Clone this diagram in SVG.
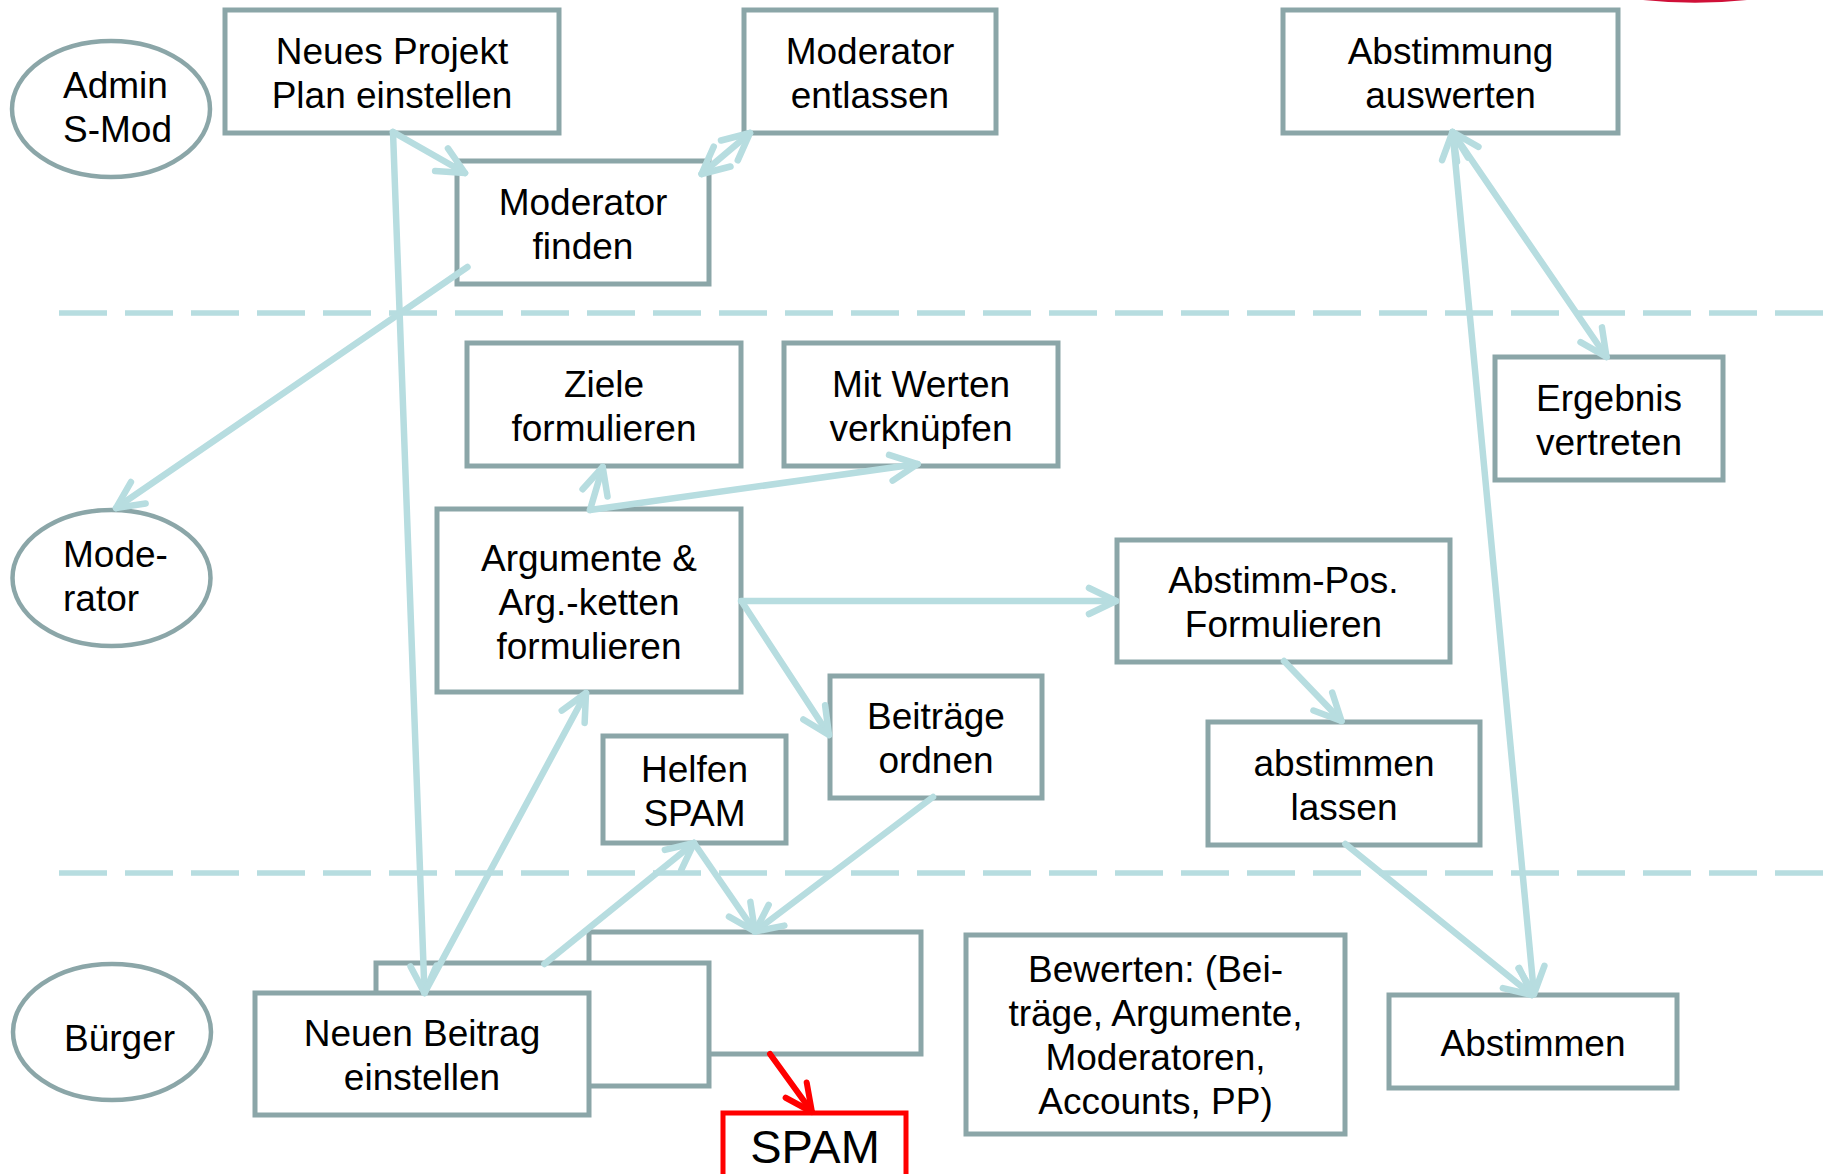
<svg xmlns="http://www.w3.org/2000/svg" width="1827" height="1174" viewBox="0 0 1827 1174">
<defs>
<style>
.box{fill:#fff;stroke:#8ba6a8;stroke-width:5}
.ell{fill:#fff;stroke:#8ba6a8;stroke-width:4.5}
.t{font-family:"Liberation Sans",Arial,sans-serif;font-size:37px;fill:#000;text-anchor:middle}
.ts{font-family:"Liberation Sans",Arial,sans-serif;font-size:37px;fill:#000;text-anchor:start}
.c{fill:none;stroke:#b7dde0;stroke-width:6.5;stroke-linecap:round;marker-end:url(#ah)}
.cb{marker-start:url(#ah)}
.dash{fill:none;stroke:#b7dde0;stroke-width:5.5;stroke-dasharray:48 18}
</style>
<marker id="ah" markerUnits="userSpaceOnUse" orient="auto-start-reverse" viewBox="-40 -25 50 50" refX="0" refY="0" markerWidth="50" markerHeight="50">
<path d="M-27,-13 L0,0 L-27,13" fill="none" stroke="#b7dde0" stroke-width="6.5" stroke-linecap="round" stroke-linejoin="round"/>
</marker>
<marker id="ahr" markerUnits="userSpaceOnUse" orient="auto" viewBox="-40 -25 50 50" refX="0" refY="0" markerWidth="50" markerHeight="50">
<path d="M-27,-13 L0,0 L-27,13" fill="none" stroke="#ff0000" stroke-width="6" stroke-linecap="round" stroke-linejoin="round"/>
</marker>
</defs>
<rect width="1827" height="1174" fill="#fff"/>
<path d="M1643,0 Q1695,5.5 1747,0 Z" fill="#d01038"/>
<g id="lanes">
<line class="dash" x1="59" y1="313" x2="1827" y2="313"/>
<line class="dash" x1="59" y1="873" x2="1827" y2="873"/>
</g>
<g id="admin">
<ellipse class="ell" cx="111" cy="109" rx="99" ry="68"/>
<text class="ts" x="63" y="98">Admin</text>
<text class="ts" x="63" y="142">S-Mod</text>
</g>
<g id="moderator">
<ellipse class="ell" cx="111.5" cy="578" rx="99" ry="68"/>
<text class="ts" x="63" y="566.5">Mode-</text>
<text class="ts" x="63" y="611">rator</text>
</g>
<g id="buerger">
<ellipse class="ell" cx="112" cy="1032" rx="99" ry="68"/>
<text class="ts" x="64" y="1051">Bürger</text>
</g>
<g id="neues-projekt">
<rect class="box" x="225" y="10" width="334" height="123"/>
<text class="t" x="392" y="63.5">Neues Projekt</text>
<text class="t" x="392" y="107.5">Plan einstellen</text>
</g>
<g id="moderator-entlassen">
<rect class="box" x="744" y="10" width="252" height="123"/>
<text class="t" x="870" y="63.5">Moderator</text>
<text class="t" x="870" y="107.5">entlassen</text>
</g>
<g id="moderator-finden">
<rect class="box" x="457" y="161" width="252" height="123"/>
<text class="t" x="583" y="214.5">Moderator</text>
<text class="t" x="583" y="258.5">finden</text>
</g>
<g id="abstimmung-auswerten">
<rect class="box" x="1283" y="10" width="335" height="123"/>
<text class="t" x="1450.5" y="63.5">Abstimmung</text>
<text class="t" x="1450.5" y="107.5">auswerten</text>
</g>
<g id="ziele">
<rect class="box" x="467" y="343" width="274" height="123"/>
<text class="t" x="604" y="396.5">Ziele</text>
<text class="t" x="604" y="440.5">formulieren</text>
</g>
<g id="mit-werten">
<rect class="box" x="784" y="343" width="274" height="123"/>
<text class="t" x="921" y="396.5">Mit Werten</text>
<text class="t" x="921" y="440.5">verknüpfen</text>
</g>
<g id="ergebnis">
<rect class="box" x="1495" y="357" width="228" height="123"/>
<text class="t" x="1609" y="410.5">Ergebnis</text>
<text class="t" x="1609" y="454.5">vertreten</text>
</g>
<g id="argumente">
<rect class="box" x="437" y="509" width="304" height="183"/>
<text class="t" x="589" y="570.5">Argumente &amp;</text>
<text class="t" x="589" y="614.5">Arg.-ketten</text>
<text class="t" x="589" y="658.5">formulieren</text>
</g>
<g id="abstimm-pos">
<rect class="box" x="1117" y="540" width="333" height="122"/>
<text class="t" x="1283.5" y="592.5">Abstimm-Pos.</text>
<text class="t" x="1283.5" y="636.5">Formulieren</text>
</g>
<g id="beitraege-ordnen">
<rect class="box" x="830" y="676" width="212" height="122"/>
<text class="t" x="936" y="729">Beiträge</text>
<text class="t" x="936" y="773">ordnen</text>
</g>
<g id="abstimmen-lassen">
<rect class="box" x="1208" y="722" width="272" height="123"/>
<text class="t" x="1344" y="775.5">abstimmen</text>
<text class="t" x="1344" y="819.5">lassen</text>
</g>
<g id="helfen-spam">
<rect class="box" x="603" y="736" width="183" height="107"/>
<text class="t" x="694.5" y="781.5">Helfen</text>
<text class="t" x="694.5" y="825.5">SPAM</text>
</g>
<g id="beitrag-stapel">
<rect class="box" x="589" y="932" width="332" height="122"/>
<rect class="box" x="376" y="963" width="333" height="123"/>
</g>
<g id="neuen-beitrag">
<rect class="box" x="255" y="993" width="334" height="122"/>
<text class="t" x="422" y="1046">Neuen Beitrag</text>
<text class="t" x="422" y="1090">einstellen</text>
</g>
<g id="bewerten">
<rect class="box" x="966" y="935" width="379" height="199"/>
<text class="t" x="1155.5" y="982">Bewerten: (Bei-</text>
<text class="t" x="1155.5" y="1026">träge, Argumente,</text>
<text class="t" x="1155.5" y="1070">Moderatoren,</text>
<text class="t" x="1155.5" y="1114">Accounts, PP)</text>
</g>
<g id="abstimmen">
<rect class="box" x="1389" y="995" width="288" height="93"/>
<text class="t" x="1533" y="1055.5">Abstimmen</text>
</g>
<g id="spam">
<rect x="723" y="1113" width="183" height="80" fill="#fff" stroke="#ff0000" stroke-width="5"/>
<text class="t" x="815" y="1162.5" style="font-size:47px">SPAM</text>
</g>
<g id="connectors">
<line class="c" x1="393" y1="132" x2="465" y2="173"/>
<line class="c" x1="393" y1="132" x2="424.5" y2="993"/>
<line class="c cb" x1="701.5" y1="174" x2="750" y2="133"/>
<line class="c" x1="467.5" y1="267" x2="116" y2="508"/>
<line class="c" x1="590" y1="510" x2="602.7" y2="467"/>
<line class="c" x1="590" y1="510" x2="917.6" y2="464"/>
<line class="c" x1="741" y1="601" x2="1116" y2="601"/>
<line class="c" x1="742" y1="602" x2="829" y2="735"/>
<line class="c" x1="424.5" y1="993" x2="586" y2="693"/>
<line class="c" x1="544.4" y1="964" x2="694" y2="843"/>
<line class="c" x1="694" y1="843" x2="755" y2="931.5"/>
<line class="c" x1="933" y1="797" x2="755" y2="931.5"/>
<line class="c" x1="1284" y1="661" x2="1341.5" y2="721"/>
<line class="c" x1="1345.4" y1="844" x2="1532" y2="995"/>
<line class="c cb" x1="1534" y1="994" x2="1452.5" y2="132"/>
<line class="c cb" x1="1452.5" y1="132" x2="1606.5" y2="357"/>
<line x1="770" y1="1054" x2="812" y2="1112" fill="none" stroke="#ff0000" stroke-width="6" stroke-linecap="round" marker-end="url(#ahr)"/>
</g>
</svg>
